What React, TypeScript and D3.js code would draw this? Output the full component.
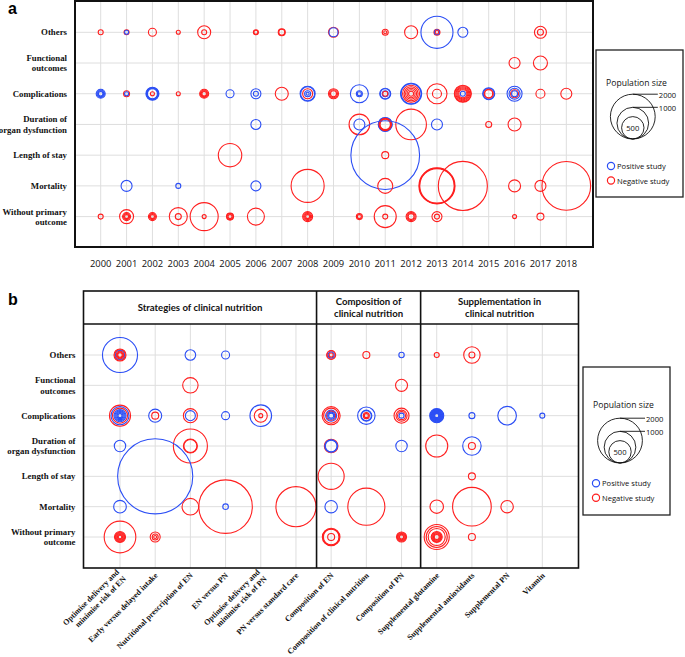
import React from 'react';
import * as d3 from 'd3';

// ---------- DATA ----------
const yearsA = [2000, 2001, 2002, 2003, 2004, 2005, 2006, 2007, 2008, 2009, 2010, 2011, 2012, 2013, 2014, 2015, 2016, 2017, 2018];

const outcomes = ['Others', 'Functional outcomes', 'Complications', 'Duration of organ dysfunction', 'Length of stay', 'Mortality', 'Without primary outcome'];
const outcomeLines = [['Others'], ['Functional', 'outcomes'], ['Complications'], ['Duration of', 'organ dysfunction'], ['Length of stay'], ['Mortality'], ['Without primary', 'outcome']];

// [year, outcome, population, positive(1)/negative(0)]
const studiesA: [number, string, number, number][] = [
  // Others
  [2000, 'Others', 25, 0], [2001, 'Others', 25, 0], [2001, 'Others', 16, 1], [2002, 'Others', 64, 0], [2003, 'Others', 16, 0],
  [2004, 'Others', 169, 0], [2004, 'Others', 25, 0], [2006, 'Others', 25, 0], [2006, 'Others', 16, 0],
  [2007, 'Others', 49, 0], [2007, 'Others', 36, 0], [2009, 'Others', 100, 0], [2009, 'Others', 81, 1],
  [2011, 'Others', 36, 0], [2011, 'Others', 9, 0], [2012, 'Others', 169, 0],
  [2013, 'Others', 1024, 1], [2013, 'Others', 36, 0], [2013, 'Others', 25, 1], [2013, 'Others', 12, 0],
  [2014, 'Others', 100, 1], [2017, 'Others', 144, 0], [2017, 'Others', 36, 0],
  // Functional outcomes
  [2016, 'Functional outcomes', 121, 0], [2017, 'Functional outcomes', 196, 0],
  // Complications
  [2000, 'Complications', 81, 1], [2000, 'Complications', 56, 1], [2000, 'Complications', 36, 1], [2000, 'Complications', 20, 1],
  [2001, 'Complications', 36, 0], [2001, 'Complications', 16, 1],
  [2002, 'Complications', 169, 1], [2002, 'Complications', 144, 1], [2002, 'Complications', 121, 1], [2002, 'Complications', 100, 1], [2002, 'Complications', 16, 0],
  [2003, 'Complications', 16, 0],
  [2004, 'Complications', 81, 0], [2004, 'Complications', 56, 0], [2004, 'Complications', 36, 0], [2004, 'Complications', 20, 0],
  [2005, 'Complications', 64, 1], [2006, 'Complications', 100, 1], [2006, 'Complications', 25, 1],
  [2007, 'Complications', 169, 0],
  [2008, 'Complications', 225, 1], [2008, 'Complications', 196, 1], [2008, 'Complications', 100, 0], [2008, 'Complications', 36, 1], [2008, 'Complications', 9, 1],
  [2009, 'Complications', 100, 0], [2009, 'Complications', 64, 0], [2009, 'Complications', 36, 0],
  [2010, 'Complications', 324, 1], [2010, 'Complications', 36, 1], [2010, 'Complications', 16, 1],
  [2011, 'Complications', 121, 1], [2011, 'Complications', 100, 1], [2011, 'Complications', 36, 1], [2011, 'Complications', 25, 0],
  [2012, 'Complications', 441, 1], [2012, 'Complications', 400, 1], [2012, 'Complications', 289, 0], [2012, 'Complications', 196, 0], [2012, 'Complications', 121, 0], [2012, 'Complications', 64, 0], [2012, 'Complications', 25, 0],
  [2013, 'Complications', 400, 0], [2013, 'Complications', 81, 0],
  [2014, 'Complications', 289, 0], [2014, 'Complications', 256, 0], [2014, 'Complications', 196, 0], [2014, 'Complications', 144, 0], [2014, 'Complications', 100, 0], [2014, 'Complications', 64, 0], [2014, 'Complications', 25, 1],
  [2015, 'Complications', 144, 1], [2015, 'Complications', 121, 1], [2015, 'Complications', 81, 0], [2015, 'Complications', 64, 0],
  [2016, 'Complications', 225, 1], [2016, 'Complications', 121, 1], [2016, 'Complications', 64, 0], [2016, 'Complications', 36, 1],
  [2017, 'Complications', 81, 0], [2018, 'Complications', 121, 0],
  // Duration of organ dysfunction
  [2006, 'Duration of organ dysfunction', 100, 1],
  [2010, 'Duration of organ dysfunction', 424, 0], [2010, 'Duration of organ dysfunction', 121, 1],
  [2011, 'Duration of organ dysfunction', 196, 1], [2011, 'Duration of organ dysfunction', 180, 1], [2011, 'Duration of organ dysfunction', 154, 0], [2011, 'Duration of organ dysfunction', 130, 0], [2011, 'Duration of organ dysfunction', 108, 0],
  [2012, 'Duration of organ dysfunction', 936, 0], [2013, 'Duration of organ dysfunction', 121, 1],
  [2015, 'Duration of organ dysfunction', 36, 0], [2016, 'Duration of organ dysfunction', 169, 0],
  // Length of stay
  [2005, 'Length of stay', 548, 0], [2011, 'Length of stay', 4706, 1], [2011, 'Length of stay', 49, 0],
  // Mortality
  [2001, 'Mortality', 121, 1], [2003, 'Mortality', 25, 1], [2006, 'Mortality', 100, 1], [2008, 'Mortality', 1089, 0],
  [2011, 'Mortality', 225, 0], [2013, 'Mortality', 1296, 0], [2013, 'Mortality', 1239, 0], [2013, 'Mortality', 1183, 0],
  [2014, 'Mortality', 2401, 0], [2016, 'Mortality', 144, 0], [2017, 'Mortality', 121, 0], [2018, 'Mortality', 2362, 0],
  // Without primary outcome
  [2000, 'Without primary outcome', 25, 0],
  [2001, 'Without primary outcome', 196, 0], [2001, 'Without primary outcome', 64, 0], [2001, 'Without primary outcome', 36, 0], [2001, 'Without primary outcome', 16, 0],
  [2002, 'Without primary outcome', 64, 0], [2002, 'Without primary outcome', 36, 0], [2002, 'Without primary outcome', 16, 0],
  [2003, 'Without primary outcome', 324, 0], [2003, 'Without primary outcome', 36, 0],
  [2004, 'Without primary outcome', 784, 0], [2004, 'Without primary outcome', 16, 0],
  [2005, 'Without primary outcome', 49, 0], [2005, 'Without primary outcome', 36, 0], [2005, 'Without primary outcome', 16, 0],
  [2006, 'Without primary outcome', 289, 0],
  [2008, 'Without primary outcome', 100, 0], [2008, 'Without primary outcome', 64, 0], [2008, 'Without primary outcome', 36, 0], [2008, 'Without primary outcome', 16, 0],
  [2010, 'Without primary outcome', 36, 0], [2010, 'Without primary outcome', 16, 0],
  [2011, 'Without primary outcome', 484, 0], [2011, 'Without primary outcome', 25, 0],
  [2012, 'Without primary outcome', 100, 0], [2012, 'Without primary outcome', 64, 0], [2012, 'Without primary outcome', 36, 0],
  [2013, 'Without primary outcome', 100, 0], [2013, 'Without primary outcome', 25, 0],
  [2016, 'Without primary outcome', 16, 0], [2017, 'Without primary outcome', 49, 0],
];

const categoriesB = [
  'Optimise delivery and minimise risk of EN', 'Early versus delayed intake', 'Nutritional prescription of EN', 'EN versus PN',
  'Optimise delivery and minimise risk of PN', 'PN versus standard care', 'Composition of EN', 'Composition of clinical nutrition',
  'Composition of PN', 'Supplemental glutamine', 'Supplemental antioxidants', 'Supplemental PN', 'Vitamin',
];
const categoryLinesB = [
  ['Optimise delivery and', 'minimise risk of EN'], ['Early versus delayed intake'], ['Nutritional prescription of EN'], ['EN versus PN'],
  ['Optimise delivery and', 'minimise risk of PN'], ['PN versus standard care'], ['Composition of EN'], ['Composition of clinical nutrition'],
  ['Composition of PN'], ['Supplemental glutamine'], ['Supplemental antioxidants'], ['Supplemental PN'], ['Vitamin'],
];
const groupsB = [
  { lines: ['Strategies of clinical nutrition'], first: 0, last: 5 },
  { lines: ['Composition of', 'clinical nutrition'], first: 6, last: 8 },
  { lines: ['Supplementation in', 'clinical nutrition'], first: 9, last: 12 },
];

// [category index, outcome, population, positive(1)/negative(0)]
const studiesB: [number, string, number, number][] = [
  // Others
  [0, 'Others', 1225, 1], [0, 'Others', 144, 0], [0, 'Others', 110, 0], [0, 'Others', 81, 1], [0, 'Others', 56, 0], [0, 'Others', 36, 0], [0, 'Others', 20, 0],
  [2, 'Others', 112, 1], [3, 'Others', 64, 1],
  [6, 'Others', 81, 0], [6, 'Others', 64, 0], [6, 'Others', 36, 1], [6, 'Others', 16, 0],
  [7, 'Others', 49, 0], [8, 'Others', 29, 1], [9, 'Others', 25, 0], [10, 'Others', 269, 0], [10, 'Others', 36, 0],
  // Functional outcomes
  [2, 'Functional outcomes', 237, 0], [8, 'Functional outcomes', 144, 0],
  // Complications
  [0, 'Complications', 441, 0], [0, 'Complications', 324, 1], [0, 'Complications', 225, 0], [0, 'Complications', 144, 1], [0, 'Complications', 100, 1], [0, 'Complications', 64, 1], [0, 'Complications', 36, 1], [0, 'Complications', 16, 1],
  [1, 'Complications', 169, 1], [1, 'Complications', 49, 0],
  [2, 'Complications', 196, 0], [2, 'Complications', 100, 1],
  [3, 'Complications', 64, 1],
  [4, 'Complications', 467, 1], [4, 'Complications', 169, 0], [4, 'Complications', 16, 0],
  [6, 'Complications', 324, 0], [6, 'Complications', 225, 0], [6, 'Complications', 121, 1], [6, 'Complications', 81, 0], [6, 'Complications', 49, 1], [6, 'Complications', 25, 1],
  [7, 'Complications', 303, 1], [7, 'Complications', 121, 1], [7, 'Complications', 100, 1], [7, 'Complications', 36, 0], [7, 'Complications', 16, 0],
  [8, 'Complications', 225, 0], [8, 'Complications', 121, 0], [8, 'Complications', 64, 0], [8, 'Complications', 25, 1],
  [9, 'Complications', 196, 1], [9, 'Complications', 169, 1], [9, 'Complications', 144, 1], [9, 'Complications', 121, 1], [9, 'Complications', 100, 1], [9, 'Complications', 81, 1], [9, 'Complications', 64, 1], [9, 'Complications', 49, 1], [9, 'Complications', 36, 1], [9, 'Complications', 25, 1], [9, 'Complications', 16, 1],
  [10, 'Complications', 36, 1], [11, 'Complications', 346, 1], [12, 'Complications', 25, 1],
  // Duration of organ dysfunction
  [0, 'Duration of organ dysfunction', 130, 1],
  [2, 'Duration of organ dysfunction', 1156, 0], [2, 'Duration of organ dysfunction', 196, 0], [2, 'Duration of organ dysfunction', 169, 0],
  [6, 'Duration of organ dysfunction', 185, 0], [6, 'Duration of organ dysfunction', 159, 1], [6, 'Duration of organ dysfunction', 135, 1],
  [8, 'Duration of organ dysfunction', 130, 1], [9, 'Duration of organ dysfunction', 484, 0],
  [10, 'Duration of organ dysfunction', 339, 1], [10, 'Duration of organ dysfunction', 49, 0],
  // Length of stay
  [1, 'Length of stay', 5625, 1], [6, 'Length of stay', 676, 0], [10, 'Length of stay', 49, 0],
  // Mortality
  [0, 'Mortality', 159, 1], [2, 'Mortality', 276, 0], [3, 'Mortality', 2852, 0], [3, 'Mortality', 31, 1],
  [5, 'Mortality', 1600, 0], [6, 'Mortality', 154, 1], [7, 'Mortality', 1369, 0],
  [9, 'Mortality', 180, 0], [10, 'Mortality', 1490, 0], [11, 'Mortality', 154, 0],
  // Without primary outcome
  [0, 'Without primary outcome', 999, 0], [0, 'Without primary outcome', 121, 0], [0, 'Without primary outcome', 90, 0], [0, 'Without primary outcome', 64, 0], [0, 'Without primary outcome', 42, 0], [0, 'Without primary outcome', 25, 0], [0, 'Without primary outcome', 13, 0],
  [1, 'Without primary outcome', 100, 0], [1, 'Without primary outcome', 36, 0], [1, 'Without primary outcome', 9, 0],
  [6, 'Without primary outcome', 310, 0], [6, 'Without primary outcome', 276, 0], [6, 'Without primary outcome', 243, 0], [6, 'Without primary outcome', 49, 0],
  [8, 'Without primary outcome', 100, 0], [8, 'Without primary outcome', 72, 0], [8, 'Without primary outcome', 49, 0], [8, 'Without primary outcome', 30, 0], [8, 'Without primary outcome', 16, 0],
  [9, 'Without primary outcome', 625, 0], [9, 'Without primary outcome', 441, 0], [9, 'Without primary outcome', 289, 0], [9, 'Without primary outcome', 121, 0], [9, 'Without primary outcome', 90, 0], [9, 'Without primary outcome', 64, 0], [9, 'Without primary outcome', 42, 0], [9, 'Without primary outcome', 25, 0],
  [10, 'Without primary outcome', 49, 0],
];

const legendSizes = [2000, 1000, 500];
const legendItems = [{ label: 'Positive study', pos: 1 }, { label: 'Negative study', pos: 0 }];

// ---------- STYLE ----------
const BLUE = '#2b4ef5';
const RED = '#ff1f1f';
const GRID = '#dedede';
const SERIF = '"Liberation Serif", "Times New Roman", serif';
const SANS = '"Open Sans", "Noto Sans", sans-serif';

const rScale = d3.scaleSqrt().domain([0, 2000]).range([0, 22.4]);

function Legend({ x0, y0, w, h, cx, titleY, bottomY, itemX, itemY }: any) {
  return (
    <g>
      <rect x={x0} y={y0} width={w} height={h} fill="#fff" stroke="#222" strokeWidth={1.3} />
      <text x={x0 + w / 2 - 3} y={titleY} fontFamily={SANS} fontSize={8.6} textAnchor="middle" dominantBaseline="central" fill="#111">Population size</text>
      {legendSizes.map((s) => {
        const r = rScale(s);
        return <circle key={s} cx={cx} cy={bottomY - r} r={r} fill="none" stroke="#111" strokeWidth={0.9} />;
      })}
      {legendSizes.slice(0, 2).map((s) => {
        const top = bottomY - 2 * rScale(s);
        return (
          <g key={'l' + s}>
            <line x1={cx} x2={cx + 25} y1={top} y2={top} stroke="#111" strokeWidth={0.9} />
            <text x={cx + 26} y={top + 1} fontFamily={SANS} fontSize={7.6} dominantBaseline="central" fill="#111">{s}</text>
          </g>
        );
      })}
      <text x={cx} y={bottomY - rScale(500)} fontFamily={SANS} fontSize={7.6} textAnchor="middle" dominantBaseline="central" fill="#111">500</text>
      {legendItems.map((it, i) => (
        <g key={it.label}>
          <circle cx={itemX} cy={itemY + i * 14.5} r={3.6} fill="none" stroke={it.pos ? BLUE : RED} strokeWidth={1.2} />
          <text x={itemX + 6} y={itemY + i * 14.5} fontFamily={SANS} fontSize={7.6} dominantBaseline="central" fill="#111">{it.label}</text>
        </g>
      ))}
    </g>
  );
}

function RowLabels({ y, xRight }: any) {
  return (
    <g>
      {outcomes.map((o, i) => {
        const lines = outcomeLines[i];
        const cy = y(o);
        return (
          <text key={o} x={xRight} textAnchor="end" fontFamily={SERIF} fontWeight="bold" fontSize={8.8} fill="#111">
            {lines.map((l, j) => (
              <tspan key={j} x={xRight} y={lines.length === 1 ? cy + 3 : cy - 2 + j * 10.4}>{l}</tspan>
            ))}
          </text>
        );
      })}
    </g>
  );
}

export default function App() {
  // Panel a
  const aL = 75, aR = 593, aT = 1, aB = 247;
  const xA = d3.scalePoint<number>().domain(yearsA).range([100.7, 566.3]);
  const yA = d3.scalePoint<string>().domain(outcomes).range([32.3, 216.6]);

  // Panel b
  const bL = 83.5, bR = 578.5, bT = 291, bH = 324, bB = 568;
  const idxB = categoriesB.map((_, i) => i);
  const xB = d3.scalePoint<number>().domain(idxB).range([120, 542.3]);
  const yB = d3.scalePoint<string>().domain(outcomes).range([355, 537]);
  const dividers = [(xB(5)! + xB(6)!) / 2 + 3, (xB(8)! + xB(9)!) / 2 + 1.5];
  const secBounds = [bL, dividers[0], dividers[1], bR];

  return (
    <svg width={685} height={657} style={{ position: 'absolute', left: 0, top: 0, background: '#fff' }}>
      <rect width={685} height={657} fill="#fff" />
      {/* ---------- Panel a ---------- */}
      <text x={8} y={13.5} fontFamily='"Liberation Sans", Arial, sans-serif' fontWeight="bold" fontSize={16}>a</text>
      {yearsA.map((yr) => (
        <line key={yr} x1={xA(yr)} x2={xA(yr)} y1={aT} y2={aB} stroke={GRID} strokeWidth={1} />
      ))}
      {outcomes.map((o) => (
        <line key={o} x1={aL} x2={aR} y1={yA(o)} y2={yA(o)} stroke={GRID} strokeWidth={1} />
      ))}
      {studiesA.map(([yr, o, pop, pos], i) => (
        <circle key={i} cx={xA(yr)} cy={yA(o)} r={rScale(pop)} fill="none" stroke={pos ? BLUE : RED} strokeWidth={1.1} />
      ))}
      <rect x={aL} y={aT} width={aR - aL} height={aB - aT} fill="none" stroke="#111" strokeWidth={2} />
      <RowLabels y={yA} xRight={67} />
      {yearsA.map((yr) => (
        <text key={yr} x={xA(yr)} y={267} textAnchor="middle" fontFamily={SANS} fontSize={9.4} fill="#111">{yr}</text>
      ))}
      <Legend x0={596} y0={50} w={87} h={147} cx={632.8} titleY={83} bottomY={139} itemX={611} itemY={166} />

      {/* ---------- Panel b ---------- */}
      <text x={8} y={305} fontFamily='"Liberation Sans", Arial, sans-serif' fontWeight="bold" fontSize={16}>b</text>
      {idxB.map((c) => (
        <line key={c} x1={xB(c)} x2={xB(c)} y1={bH} y2={bB} stroke={GRID} strokeWidth={1} />
      ))}
      {outcomes.map((o) => (
        <line key={o} x1={bL} x2={bR} y1={yB(o)} y2={yB(o)} stroke={GRID} strokeWidth={1} />
      ))}
      {studiesB.map(([c, o, pop, pos], i) => (
        <circle key={i} cx={xB(c)} cy={yB(o)} r={rScale(pop)} fill="none" stroke={pos ? BLUE : RED} strokeWidth={1.1} />
      ))}
      <rect x={bL} y={bT} width={bR - bL} height={bB - bT} fill="none" stroke="#111" strokeWidth={1.6} />
      <line x1={bL} x2={bR} y1={bH} y2={bH} stroke="#111" strokeWidth={1.6} />
      {dividers.map((d, i) => (
        <line key={i} x1={d} x2={d} y1={bT} y2={bB} stroke="#111" strokeWidth={1.6} />
      ))}
      {groupsB.map((g, i) => {
        const cx = (secBounds[i] + secBounds[i + 1]) / 2;
        const cy = (bT + bH) / 2;
        return (
          <text key={i} textAnchor="middle" fontFamily='Lato, "Open Sans", sans-serif' fontWeight="bold" fontSize={9.6} fill="#111">
            {g.lines.map((l, j) => (
              <tspan key={j} x={cx} y={cy + 3.5 + (j - (g.lines.length - 1) / 2) * 12.5}>{l}</tspan>
            ))}
          </text>
        );
      })}
      <RowLabels y={yB} xRight={75.5} />
      {idxB.map((c) => {
        const lines = categoryLinesB[c];
        return (
          <text key={c} transform={`translate(${xB(c)! + 3},${576}) rotate(-45)`} textAnchor="end" fontFamily={SERIF} fontWeight="bold" fontSize={8} fill="#111">
            {lines.map((l, j) => (
              <tspan key={j} x={0} y={(j - (lines.length - 1) / 2) * 9.8}>{l}</tspan>
            ))}
          </text>
        );
      })}
      <Legend x0={583} y0={367} w={87} h={148} cx={620} titleY={405} bottomY={463} itemX={596} itemY={483.3} />
    </svg>
  );
}
